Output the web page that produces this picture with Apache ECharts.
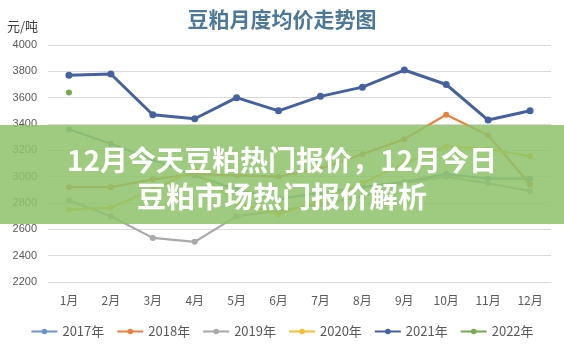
<!DOCTYPE html>
<html>
<head>
<meta charset="utf-8">
<script src="https://cdn.jsdelivr.net/npm/echarts@6/dist/echarts.min.js"></script>
<style>
html,body{margin:0;padding:0;background:#fff;}
#c{width:564px;height:350px;}
</style>
</head>
<body>
<div id="c"></div>
<script>
const months = ['1月','2月','3月','4月','5月','6月','7月','8月','9月','10月','11月','12月'];
const seriesNames = ['2017年','2018年','2019年','2020年','2021年','2022年'];
const s2017 = [3360, 3250, 3130, 3010, 2900, 2830, 2880, 2920, 2960, 3020, 2985, 2985];
const s2018 = [2920, 2920, 2980, 3020, 3010, 3000, 3060, 3170, 3285, 3470, 3315, 2940];
const s2019 = [2820, 2700, 2535, 2505, 2700, 2740, 2790, 2850, 2950, 3000, 2950, 2890];
const s2020 = [2750, 2765, 2900, 3050, 2800, 2715, 2820, 2950, 3100, 3230, 3210, 3155];
const s2021 = [3770, 3780, 3470, 3440, 3600, 3500, 3610, 3680, 3810, 3700, 3430, 3500];
const s2022 = [3640, null, null, null, null, null, null, null, null, null, null, null];
const yTicks = { min: 2200, max: 4000, step: 200 };
const titleText = '豆粕月度均价走势图';
const unitText = '元/吨';
const bannerLine1 = '12月今天豆粕热门报价，12月今日';
const bannerLine2 = '豆粕市场热门报价解析';

const colors = ['#6a93c9', '#e9803f', '#a9a9a9', '#f3c133', '#47619f', '#76a852'];
const allData = [s2017, s2018, s2019, s2020, s2021, s2022];

const chart = echarts.init(document.getElementById('c'), null, {renderer: 'canvas'});
const series = allData.map((d, i) => ({
  name: seriesNames[i],
  type: 'line',
  data: d,
  symbol: 'circle',
  symbolSize: i === 4 ? 7 : 6,
  showAllSymbol: true,
  connectNulls: false,
  z: i === 4 ? 5 : 3,
  lineStyle: { width: i === 4 ? 3 : 2.2, color: colors[i] },
  itemStyle: { color: colors[i] }
}));

chart.setOption({
  animation: false,
  backgroundColor: '#ffffff',
  color: colors,
  title: {
    text: titleText,
    left: 'center',
    top: 4,
    textStyle: { fontFamily: '"Noto Sans CJK SC"', fontSize: 21, fontWeight: 'bold', color: '#4d7897' }
  },
  grid: { left: 48, right: 13, top: 45, bottom: 68, containLabel: false },
  xAxis: {
    type: 'category',
    data: months,
    boundaryGap: true,
    axisLine: { show: true, lineStyle: { color: '#d9d9d9' } },
    axisTick: { show: false },
    axisLabel: { color: '#595959', fontSize: 12, margin: 12, fontFamily: '"Noto Sans CJK SC"' }
  },
  yAxis: {
    type: 'value',
    min: yTicks.min,
    max: yTicks.max,
    interval: yTicks.step,
    name: unitText,
    nameLocation: 'end',
    nameGap: 12,
    nameTextStyle: { color: '#404040', fontSize: 13, align: 'right', padding: [0, 10, 0, 0], fontFamily: '"Noto Sans CJK SC"' },
    axisLine: { show: false },
    axisTick: { show: false },
    axisLabel: { color: '#595959', fontSize: 11, margin: 11, fontFamily: 'Liberation Sans', formatter: v => String(v) },
    splitLine: { lineStyle: { color: '#d9d9d9', width: 1 } }
  },
  legend: {
    bottom: 7,
    left: 'center',
    itemWidth: 26,
    itemHeight: 7,
    itemGap: 12,
    textStyle: { color: '#595959', fontSize: 13, fontFamily: '"Noto Sans CJK SC"' },
    data: seriesNames
  },
  series: series,
  graphic: [
    {
      type: 'rect',
      z: 100,
      shape: { x: 0, y: 125, width: 564, height: 99 },
      style: { fill: 'rgba(142,194,106,0.86)' }
    },
    {
      type: 'text',
      z: 101,
      x: 282, y: 160,
      style: {
        text: bannerLine1,
        fill: '#ffffff',
        font: 'bold 28px "Noto Sans CJK SC"',
        textAlign: 'center',
        textVerticalAlign: 'middle'
      }
    },
    {
      type: 'text',
      z: 101,
      x: 282, y: 197,
      style: {
        text: bannerLine2,
        fill: '#ffffff',
        font: 'bold 29px "Noto Sans CJK SC"',
        textAlign: 'center',
        textVerticalAlign: 'middle'
      }
    }
  ]
});
</script>
</body>
</html>
